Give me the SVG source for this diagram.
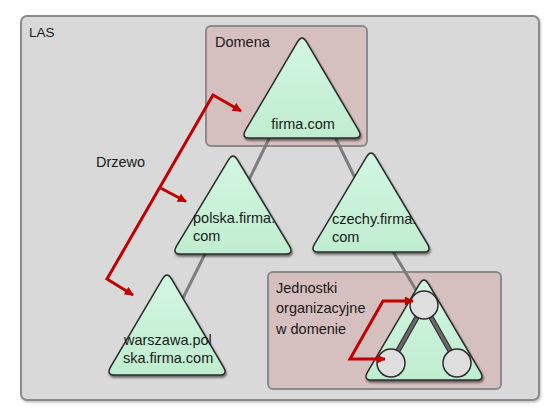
<svg xmlns="http://www.w3.org/2000/svg" width="546" height="413" viewBox="0 0 546 413">
<style>
.box{stroke:#8a8a8a;stroke-width:2}
.tri{fill:url(#g);stroke:#2b2b2b;stroke-width:1.5;filter:url(#sh)}
.t{font-family:"Liberation Sans",Arial,sans-serif;font-size:14.5px;fill:#1a1a1a}
.conn{stroke:#7c7c7c;stroke-width:3;fill:none}
.red{stroke:#c00000;stroke-width:3;fill:none;stroke-linejoin:miter}
.ou{fill:#dedede;stroke:#2b2b2b;stroke-width:1.5}
</style>
<defs>
<linearGradient id="g" x1="0" y1="0" x2="0" y2="1">
<stop offset="0" stop-color="#d2f6e1"/>
<stop offset="1" stop-color="#c0edd0"/>
</linearGradient>
<filter id="sh" x="-20%" y="-20%" width="140%" height="140%">
<feDropShadow dx="1" dy="2" stdDeviation="1.2" flood-color="#000" flood-opacity="0.55"/>
</filter>
<filter id="bs" x="-5%" y="-5%" width="110%" height="110%">
<feDropShadow dx="1" dy="1.5" stdDeviation="1.2" flood-color="#000" flood-opacity="0.25"/>
</filter>
<marker id="ah" viewBox="0 0 10 10" refX="9" refY="5" markerWidth="10" markerHeight="9" markerUnits="userSpaceOnUse" orient="auto-start-reverse">
<path d="M0,0 L10,5 L0,10 Z" fill="#c00000"/>
</marker>
</defs>

<g id="las">
<rect class="box" x="21" y="16" width="518" height="384" rx="6" fill="#d9d9d9" filter="url(#bs)"/>
<text class="t" x="29" y="37" style="font-size:13.5px">LAS</text>
</g>

<g id="domena">
<rect class="box" x="206" y="26" width="161" height="120" rx="5" fill="#d6bfbf"/>
<text class="t" x="215" y="47">Domena</text>
</g>

<g id="jednostki-box">
<rect class="box" x="268" y="272" width="233" height="117" rx="5" fill="#d6bfbf"/>
<text class="t" x="276" y="293">Jednostki</text>
<text class="t" x="276" y="313">organizacyjne</text>
<text class="t" x="276" y="334">w domenie</text>
</g>

<g id="connectors">
<line class="conn" x1="283" y1="110" x2="244" y2="190"/>
<line class="conn" x1="322" y1="110" x2="356" y2="180"/>
<line class="conn" x1="212" y1="240" x2="182" y2="300"/>
<line class="conn" x1="386" y1="240" x2="416" y2="290"/>
</g>

<g id="firma">
<path class="tri" d="M297.5,41.8 Q302,34 306.5,41.8 L358.5,130.2 Q363,138 354,138 L250,138 Q241,138 245.5,130.2 Z"/>
<text class="t" x="303" y="129" text-anchor="middle">firma.com</text>
</g>

<g id="polska">
<path class="tri" d="M228.5,159.8 Q233,152 237.5,159.8 L289.5,246.2 Q294,254 285,254 L181,254 Q172,254 176.5,246.2 Z"/>
<text class="t" x="193" y="223">polska.firma.</text>
<text class="t" x="193" y="241">com</text>
</g>

<g id="czechy">
<path class="tri" d="M366.5,156.8 Q371,149 375.5,156.8 L427.5,244.2 Q432,252 423,252 L319,252 Q310,252 314.5,244.2 Z"/>
<text class="t" x="332" y="224">czechy.firma.</text>
<text class="t" x="332" y="242">com</text>
</g>

<g id="warszawa">
<path class="tri" d="M162.5,278.8 Q167,271 171.5,278.8 L223.5,367.2 Q228,375 219,375 L115,375 Q106,375 110.5,367.2 Z"/>
<text class="t" x="124" y="345">warszawa.pol</text>
<text class="t" x="123" y="363">ska.firma.com</text>
</g>

<g id="ou">
<path class="tri" d="M419.5,283.8 Q424,276 428.5,283.8 L480.5,372.2 Q485,380 476,380 L372,380 Q363,380 367.5,372.2 Z"/>
<line x1="424" y1="305" x2="391" y2="363" stroke="#333" stroke-width="5.5"/>
<line x1="424" y1="305" x2="457" y2="363" stroke="#333" stroke-width="5.5"/>
<line x1="424" y1="305" x2="391" y2="363" stroke="#6a6a6a" stroke-width="3"/>
<line x1="424" y1="305" x2="457" y2="363" stroke="#6a6a6a" stroke-width="3"/>
<circle class="ou" cx="424" cy="305" r="14"/>
<circle class="ou" cx="391" cy="363" r="14"/>
<circle class="ou" cx="457" cy="363" r="14"/>
</g>

<g id="drzewo">
<path class="red" d="M241,111 L213,95 L107,279 L133,295" marker-start="url(#ah)" marker-end="url(#ah)"/>
<path class="red" d="M160.5,188 L186,201.5" marker-end="url(#ah)"/>
<text class="t" x="96" y="167">Drzewo</text>
</g>

<g id="ou-arrows">
<path class="red" d="M413,301 L383,301 L350,359 L385,359" marker-start="url(#ah)" marker-end="url(#ah)"/>
</g>
</svg>
